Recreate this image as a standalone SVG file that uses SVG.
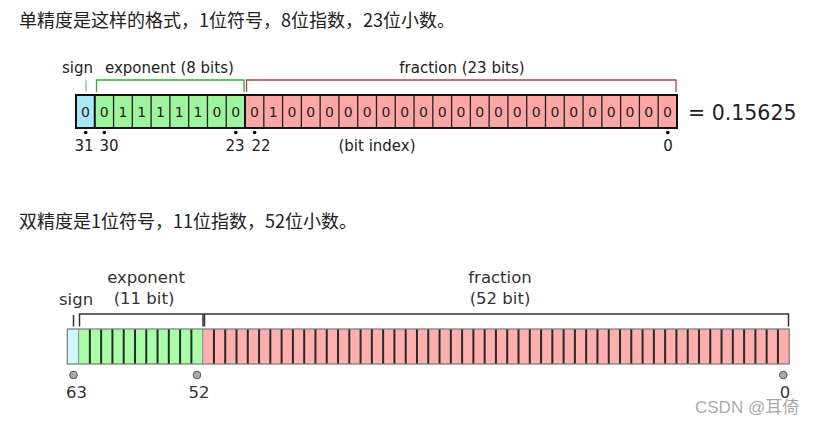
<svg xmlns="http://www.w3.org/2000/svg" width="822" height="425" viewBox="0 0 822 425">
<style>
.cn{font-family:"Noto Sans CJK SC","Liberation Sans",sans-serif;font-size:18px;fill:#222}
.lbl{font-family:"DejaVu Sans",sans-serif;font-size:15px;fill:#222}
.bit{font-family:"DejaVu Sans",sans-serif;font-size:14px;fill:#222;text-anchor:middle}
.idx{font-family:"DejaVu Sans",sans-serif;font-size:15px;fill:#222;text-anchor:middle}
.lbl2{font-family:"DejaVu Sans",sans-serif;font-size:16.5px;fill:#333}
.dot{fill:#000}
.circ{fill:#aaa;stroke:#555;stroke-width:1}
</style>
<rect width="822" height="425" fill="#fff"/>
<g id="caption1"><text class="cn" x="19" y="27">单精度是这样的格式，1位符号，8位指数，23位小数。</text></g>
<g id="caption2"><text class="cn" x="19" y="228">双精度是1位符号，11位指数，52位小数。</text></g>

<g id="single">
  <g id="single-labels">
    <text class="lbl" x="62" y="73">sign</text>
    <text class="lbl" x="105" y="73">exponent (8 bits)</text>
    <text class="lbl" x="462" y="73" text-anchor="middle">fraction (23 bits)</text>
  </g>
  <g id="single-brackets" fill="none" stroke-width="1.3">
    <path d="M86 80.5V91.5" stroke="#6cc0cc"/>
    <path d="M96.5 92V80H244V92" stroke="#33aa33"/>
    <path d="M246.5 92V80H676V92" stroke="#a84848"/>
  </g>
  <g id="single-cells">
    <rect x="76" y="95" width="18.78" height="33" fill="#a8e8f8"/>
    <rect x="94.78" y="95" width="150.24" height="33" fill="#9ef59e"/>
    <rect x="245.02" y="95" width="431.98" height="33" fill="#ffa6a6"/>
    <path d="M113.56 95V128M132.34 95V128M151.12 95V128M169.9 95V128M188.68 95V128M207.46 95V128M226.24 95V128M263.8 95V128M282.58 95V128M301.36 95V128M320.14 95V128M338.92 95V128M357.7 95V128M376.48 95V128M395.26 95V128M414.04 95V128M432.82 95V128M451.6 95V128M470.38 95V128M489.16 95V128M507.94 95V128M526.72 95V128M545.5 95V128M564.28 95V128M583.06 95V128M601.84 95V128M620.62 95V128M639.4 95V128M658.18 95V128" stroke="#222" stroke-width="1.3" fill="none"/>
    <path d="M94.78 95V128M245.02 95V128" stroke="#111" stroke-width="2" fill="none"/>
    <rect x="76" y="95" width="601" height="33" fill="none" stroke="#111" stroke-width="2"/>
  </g>
  <g id="single-bits">
    <text class="bit" x="85.39" y="117">0</text>
    <text class="bit" x="104.17" y="117">0</text>
    <text class="bit" x="122.95" y="117">1</text>
    <text class="bit" x="141.73" y="117">1</text>
    <text class="bit" x="160.51" y="117">1</text>
    <text class="bit" x="179.29" y="117">1</text>
    <text class="bit" x="198.07" y="117">1</text>
    <text class="bit" x="216.85" y="117">0</text>
    <text class="bit" x="235.63" y="117">0</text>
    <text class="bit" x="254.41" y="117">0</text>
    <text class="bit" x="273.19" y="117">1</text>
    <text class="bit" x="291.97" y="117">0</text>
    <text class="bit" x="310.75" y="117">0</text>
    <text class="bit" x="329.53" y="117">0</text>
    <text class="bit" x="348.31" y="117">0</text>
    <text class="bit" x="367.09" y="117">0</text>
    <text class="bit" x="385.87" y="117">0</text>
    <text class="bit" x="404.65" y="117">0</text>
    <text class="bit" x="423.43" y="117">0</text>
    <text class="bit" x="442.21" y="117">0</text>
    <text class="bit" x="460.99" y="117">0</text>
    <text class="bit" x="479.77" y="117">0</text>
    <text class="bit" x="498.55" y="117">0</text>
    <text class="bit" x="517.33" y="117">0</text>
    <text class="bit" x="536.11" y="117">0</text>
    <text class="bit" x="554.89" y="117">0</text>
    <text class="bit" x="573.67" y="117">0</text>
    <text class="bit" x="592.45" y="117">0</text>
    <text class="bit" x="611.23" y="117">0</text>
    <text class="bit" x="630.01" y="117">0</text>
    <text class="bit" x="648.79" y="117">0</text>
    <text class="bit" x="667.57" y="117">0</text>
  </g>
  <g id="single-index">
    <circle class="dot" cx="85.7" cy="132.5" r="1.8"/>
    <circle class="dot" cx="104.3" cy="132.5" r="1.8"/>
    <circle class="dot" cx="235.8" cy="132.5" r="1.8"/>
    <circle class="dot" cx="254.6" cy="132.5" r="1.8"/>
    <circle class="dot" cx="667.8" cy="132.5" r="1.8"/>
    <text class="idx" x="84" y="151">31</text>
    <text class="idx" x="109" y="151">30</text>
    <text class="idx" x="235" y="151">23</text>
    <text class="idx" x="261" y="151">22</text>
    <text class="idx" x="377" y="151">(bit index)</text>
    <text class="idx" x="668" y="151">0</text>
  </g>
  <g id="single-value"><text x="688" y="120" font-family="DejaVu Sans, sans-serif" font-size="20.5" fill="#222">= 0.15625</text></g>
</g>

<g id="double">
  <g id="double-labels">
    <text class="lbl2" x="59" y="305">sign</text>
    <text class="lbl2" x="146" y="283" text-anchor="middle">exponent</text>
    <text class="lbl2" x="144" y="304" text-anchor="middle">(11 bit)</text>
    <text class="lbl2" x="500" y="283" text-anchor="middle">fraction</text>
    <text class="lbl2" x="500" y="304" text-anchor="middle">(52 bit)</text>
  </g>
  <g id="double-brackets" fill="none" stroke="#333" stroke-width="1.5">
    <path d="M73.5 315V326.5"/>
    <path d="M79.5 326.5V314H203V326.5"/>
    <path d="M204.5 326.5V314H788.5V326.5"/>
  </g>
  <g id="double-cells">
    <rect x="67.3" y="329" width="11.28" height="35" fill="#cdf8ff"/>
    <rect x="78.58" y="329" width="124.08" height="35" fill="#a8ffa8"/>
    <rect x="202.66" y="329" width="586.56" height="35" fill="#ffafaf"/>
    <path d="M78.58 329V364M202.66 329V364" stroke="#888" stroke-width="1" fill="none"/>
    <path d="M89.86 329V364M101.14 329V364M112.42 329V364M123.7 329V364M134.98 329V364M146.26 329V364M157.54 329V364M168.82 329V364M180.1 329V364M191.38 329V364M213.94 329V364M225.22 329V364M236.5 329V364M247.78 329V364M259.06 329V364M270.34 329V364M281.62 329V364M292.9 329V364M304.18 329V364M315.46 329V364M326.74 329V364M338.02 329V364M349.3 329V364M360.58 329V364M371.86 329V364M383.14 329V364M394.42 329V364M405.7 329V364M416.98 329V364M428.26 329V364M439.54 329V364M450.82 329V364M462.1 329V364M473.38 329V364M484.66 329V364M495.94 329V364M507.22 329V364M518.5 329V364M529.78 329V364M541.06 329V364M552.34 329V364M563.62 329V364M574.9 329V364M586.18 329V364M597.46 329V364M608.74 329V364M620.02 329V364M631.3 329V364M642.58 329V364M653.86 329V364M665.14 329V364M676.42 329V364M687.7 329V364M698.98 329V364M710.26 329V364M721.54 329V364M732.82 329V364M744.1 329V364M755.38 329V364M766.66 329V364M777.94 329V364" stroke="#2a2a2a" stroke-width="2" fill="none"/>
    <rect x="67.3" y="329" width="721.92" height="35" fill="none" stroke="#777" stroke-width="1.2"/>
  </g>
  <g id="double-index">
    <circle class="circ" cx="73.5" cy="375" r="3.8"/>
    <circle class="circ" cx="197" cy="375" r="3.8"/>
    <circle class="circ" cx="783.3" cy="375" r="3.8"/>
    <text class="lbl2" x="76.5" y="398" text-anchor="middle">63</text>
    <text class="lbl2" x="199" y="398" text-anchor="middle">52</text>
    <text class="lbl2" x="785" y="398" text-anchor="middle">0</text>
  </g>
</g>
<g id="watermark"><text x="695" y="413" font-family="Liberation Sans, Noto Sans CJK SC, sans-serif" font-size="17" fill="#999" fill-opacity="0.85">CSDN @耳倚</text></g>
</svg>
